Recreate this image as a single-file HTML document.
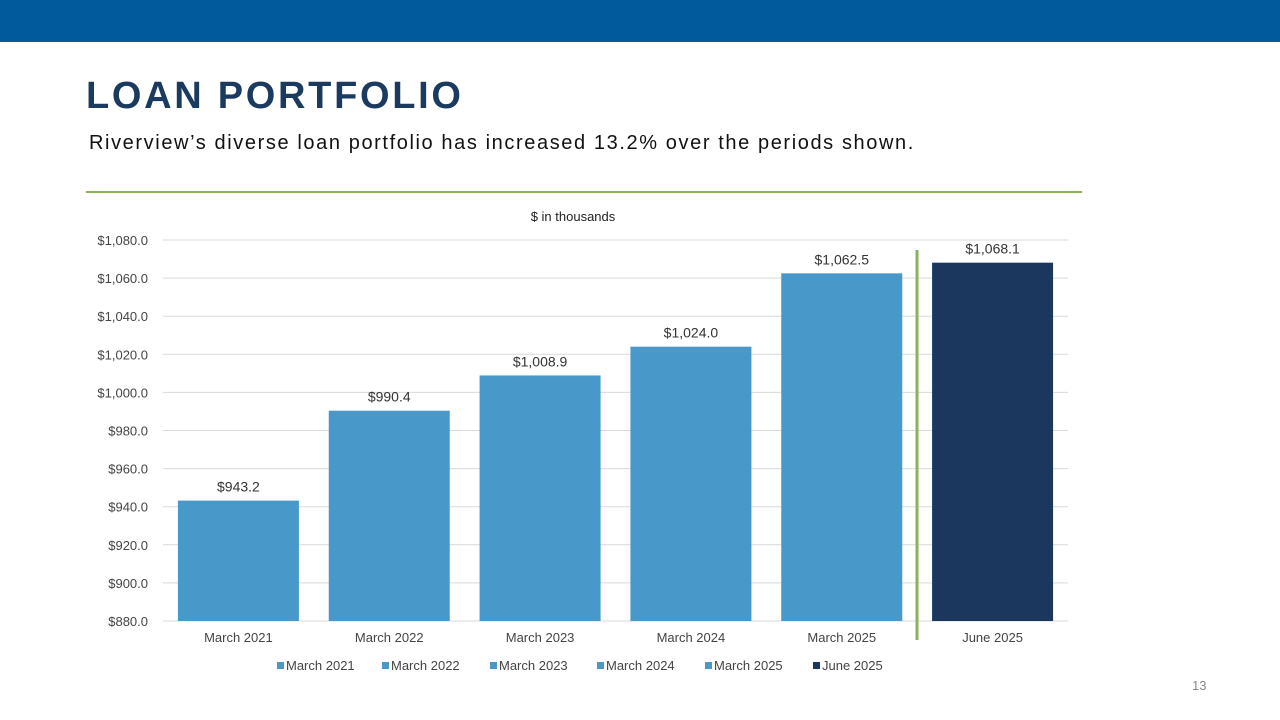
<!DOCTYPE html>
<html><head><meta charset="utf-8"><style>
body{margin:0;width:1280px;height:720px;background:#fff;position:relative;overflow:hidden;font-family:"Liberation Sans",sans-serif}
.top{position:absolute;left:0;top:0;width:1280px;height:42px;background:#005a9c}
h1{position:absolute;left:86px;top:75px;margin:0;font-size:38px;font-weight:bold;color:#1b3a5f;letter-spacing:2.7px}
.sub{position:absolute;left:89px;top:132px;font-size:20px;color:#111;letter-spacing:1.6px}
.rule{position:absolute;left:86px;top:191px;width:996px;height:2px;background:#8db05a}
.pg{position:absolute;left:1192px;top:678px;font-size:13px;color:#888}
</style></head><body>
<div class="top"></div>
<h1>LOAN PORTFOLIO</h1>
<div class="sub">Riverview’s diverse loan portfolio has increased 13.2% over the periods shown.</div>
<div class="rule"></div>
<div class="pg">13</div>
<svg id="chart" width="1280" height="720" style="position:absolute;left:0;top:0"></svg>
<script>
const categories=["March 2021","March 2022","March 2023","March 2024","March 2025","June 2025"];
const values=[943.2,990.4,1008.9,1024.0,1062.5,1068.1];
const valueLabels=["$943.2","$990.4","$1,008.9","$1,024.0","$1,062.5","$1,068.1"];
const ticks=[880,900,920,940,960,980,1000,1020,1040,1060,1080];
const tickLabels=["$880.0","$900.0","$920.0","$940.0","$960.0","$980.0","$1,000.0","$1,020.0","$1,040.0","$1,060.0","$1,080.0"];
const colors=["#4899c9","#4899c9","#4899c9","#4899c9","#4899c9","#1b375e"];
const NS="http://www.w3.org/2000/svg";
const svg=document.getElementById('chart');
const x0=163,x1=1068,yTop=240,yBot=621,vMin=880,vMax=1080;
const y=v=>yBot-(v-vMin)/(vMax-vMin)*(yBot-yTop);
const bw=(x1-x0)/categories.length;
const xc=i=>x0+bw*(i+0.5);
function mk(t,a,txt){const e=document.createElementNS(NS,t);for(const k in a)e.setAttribute(k,a[k]);if(txt!=null)e.textContent=txt;svg.appendChild(e);return e;}
let t=mk('text',{x:573,y:221,'font-size':13,'text-anchor':'middle',fill:'#222'},'$ in thousands');


ticks.forEach((v,i)=>{
 const l=mk('line',{x1:x0,x2:x1,y1:y(v),y2:y(v),stroke:'#d9d9d9','stroke-width':1});
 
 
 const tx=mk('text',{x:148,y:y(v)+5,'font-size':13,'text-anchor':'end',fill:'#444'},tickLabels[i]);
 
 
});
values.forEach((v,i)=>{
 const w=121;
 const r=mk('rect',{x:xc(i)-w/2,y:y(v),width:w,height:yBot-y(v),fill:colors[i]});
 
 
 const lb=mk('text',{x:xc(i),y:y(v)-9,'font-size':14,'text-anchor':'middle',fill:'#333'},valueLabels[i]);
 
 
 const c=mk('text',{x:xc(i),y:642,'font-size':13,'text-anchor':'middle',fill:'#444'},categories[i]);
 
 
});
const sep=mk('line',{x1:917,x2:917,y1:250,y2:640,stroke:'#8db05a','stroke-width':3});


const legX=[277,382,490,597,705,813];
categories.forEach((c,i)=>{
 const g=document.createElementNS(NS,'g');svg.appendChild(g);
 
 
 const s=document.createElementNS(NS,'rect');
 s.setAttribute('x',legX[i]);s.setAttribute('y',662);s.setAttribute('width',7);s.setAttribute('height',7);s.setAttribute('fill',colors[i]);g.appendChild(s);
 const tx=document.createElementNS(NS,'text');
 tx.setAttribute('x',legX[i]+9);tx.setAttribute('y',670);tx.setAttribute('font-size',13);tx.setAttribute('fill','#444');tx.textContent=c;g.appendChild(tx);
});
</script>
</body></html>
